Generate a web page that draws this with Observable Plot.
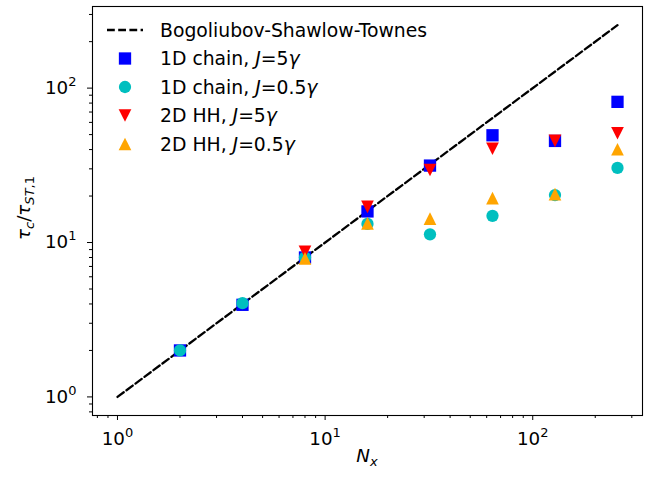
<!DOCTYPE html>
<html><head><meta charset="utf-8">
<script src="https://cdn.jsdelivr.net/npm/d3@7"></script>
<script src="https://cdn.jsdelivr.net/npm/@observablehq/plot@0.6"></script>
<style>body{margin:0;background:#fff;}</style>
</head><body><div id="chart"></div>
<script>
// ---- data ----
const bstN = [1, 256];
const bstTau = [1, 256];
const nChain = [2, 4, 8, 16, 32, 64, 128, 256];
const chainJ5 = [2, 3.95, 8, 15.9, 31.5, 49.5, 45.5, 81.5];
const chainJ05 = [2, 4.05, 8, 13.2, 11.3, 14.9, 20.3, 30.4];
const nHH = [8, 16, 32, 64, 128, 256];
const hhJ5 = [8.7, 17.0, 29.5, 40.5, 45.5, 51];
const hhJ05 = [7.9, 13.3, 14.3, 19.4, 20.6, 40.2];
const majorTicks = [1, 10, 100];
const minorTicks = [0.8, 0.9, 2, 3, 4, 5, 6, 7, 8, 9, 20, 30, 40, 50, 60, 70, 80, 90, 200, 300];

const toRows = (xs, ys) => xs.map((x, i) => ({x, y: ys[i]}));
const sup = {"0": "\u2070", "1": "\u00b9", "2": "\u00b2"};
const unsup = {"\u2070": "0", "\u00b9": "1", "\u00b2": "2"};
const fmt = d => "10" + sup[String(Math.round(Math.log10(d)))];

const triDown = {draw(ctx, size) { const s = Math.sqrt(size) / 2; ctx.moveTo(-s, -s); ctx.lineTo(s, -s); ctx.lineTo(0, s); ctx.closePath(); }};
const triUp = {draw(ctx, size) { const s = Math.sqrt(size) / 2; ctx.moveTo(0, -s); ctx.lineTo(s, s); ctx.lineTo(-s, s); ctx.closePath(); }};

const colors = {blue: "#0000ff", cyan: "#00bfbf", red: "#ff0000", orange: "#ffa500"};
const sqR = 12.3 / Math.sqrt(Math.PI), triR = 12.7 / Math.sqrt(Math.PI), circR = 6.15;
const FS = 18.3, SFS = 13, LFS = 18.8;

const svg = Plot.plot({
  width: 652, height: 481,
  marginLeft: 92, marginRight: 10, marginTop: 6, marginBottom: 66,
  style: {fontFamily: "DejaVu Sans", fontSize: FS + "px", background: "#fff", color: "black"},
  x: {type: "log", domain: [0.758, 337.8]},
  y: {type: "log", domain: [0.758, 337.8]},
  marks: [
    Plot.line(toRows(bstN, bstTau), {x: "x", y: "y", stroke: "black", strokeWidth: 2.3, strokeDasharray: "7.8,3.4"}),
    Plot.dot(toRows(nChain, chainJ5), {x: "x", y: "y", symbol: "square", r: sqR, fill: colors.blue}),
    Plot.dot(toRows(nChain, chainJ05), {x: "x", y: "y", symbol: "circle", r: circR, fill: colors.cyan}),
    Plot.dot(toRows(nHH, hhJ5), {x: "x", y: "y", symbol: triDown, r: triR, fill: colors.red}),
    Plot.dot(toRows(nHH, hhJ05), {x: "x", y: "y", symbol: triUp, r: triR, fill: colors.orange}),
    Plot.axisX({ticks: minorTicks, tickSize: 3, tickFormat: () => "", label: null, stroke: "black"}),
    Plot.axisX({ticks: majorTicks, tickSize: 5, tickPadding: 11, tickFormat: fmt, label: null, stroke: "black", fontSize: FS}),
    Plot.axisY({ticks: minorTicks, tickSize: 3, tickFormat: () => "", label: null, stroke: "black"}),
    Plot.axisY({ticks: majorTicks, tickSize: 5, tickPadding: 11, tickFormat: fmt, label: null, stroke: "black", fontSize: FS}),
    Plot.frame({stroke: "black", strokeWidth: 1.1})
  ]
});

const s = d3.select(svg);
// superscript tick labels as tspans
s.selectAll("text").each(function() {
  const txt = this.textContent;
  const m = /^10([\u2070\u00b9\u00b2])$/.exec(txt);
  if (!m) return;
  const el = d3.select(this);
  el.text("");
  el.append("tspan").text("10");
  el.append("tspan").attr("font-size", SFS).attr("dy", -8).text(unsup[m[1]]);
});

// axis labels
const xl = s.append("text").attr("x", 367).attr("y", 462).attr("text-anchor", "middle")
  .attr("font-size", FS).attr("fill", "black");
xl.append("tspan").attr("font-style", "italic").text("N");
xl.append("tspan").attr("font-style", "italic").attr("font-size", SFS).attr("dy", 3.5).text("x");

const yl = s.append("text").attr("transform", "translate(30,208) rotate(-90)").attr("text-anchor", "middle")
  .attr("font-size", FS).attr("fill", "black");
yl.append("tspan").attr("font-style", "italic").text("\u03c4");
yl.append("tspan").attr("font-style", "italic").attr("font-size", SFS).attr("dy", 3.5).text("c");
yl.append("tspan").attr("dy", -3.5).text("/");
yl.append("tspan").attr("font-style", "italic").text("\u03c4");
yl.append("tspan").attr("font-style", "italic").attr("font-size", SFS).attr("dy", 3.5).text("ST");
yl.append("tspan").attr("font-size", SFS).text(",1");

// legend
const legendItems = [
  {kind: "line", parts: [["Bogoliubov-Shawlow-Townes", false]]},
  {kind: "square", color: colors.blue, parts: [["1D chain, ", false], ["J", true], ["=5", false], ["\u03b3", true]]},
  {kind: "circle", color: colors.cyan, parts: [["1D chain, ", false], ["J", true], ["=0.5", false], ["\u03b3", true]]},
  {kind: "down", color: colors.red, parts: [["2D HH, ", false], ["J", true], ["=5", false], ["\u03b3", true]]},
  {kind: "up", color: colors.orange, parts: [["2D HH, ", false], ["J", true], ["=0.5", false], ["\u03b3", true]]}
];
const lg = s.append("g");
legendItems.forEach((it, i) => {
  const cy = 30 + i * 28.5, cx = 125;
  if (it.kind === "line") {
    lg.append("line").attr("x1", 107).attr("x2", 143).attr("y1", cy).attr("y2", cy)
      .attr("stroke", "black").attr("stroke-width", 2.3).attr("stroke-dasharray", "7.8,3.4");
  } else if (it.kind === "square") {
    lg.append("rect").attr("x", cx - 6.15).attr("y", cy - 6.15).attr("width", 12.3).attr("height", 12.3).attr("fill", it.color);
  } else if (it.kind === "circle") {
    lg.append("circle").attr("cx", cx).attr("cy", cy).attr("r", 6.15).attr("fill", it.color);
  } else if (it.kind === "down") {
    lg.append("path").attr("d", `M${cx-6.35},${cy-6.35}L${cx+6.35},${cy-6.35}L${cx},${cy+6.35}Z`).attr("fill", it.color);
  } else {
    lg.append("path").attr("d", `M${cx},${cy-6.35}L${cx+6.35},${cy+6.35}L${cx-6.35},${cy+6.35}Z`).attr("fill", it.color);
  }
  const t = lg.append("text").attr("x", 160).attr("y", cy).attr("dy", "0.36em").attr("text-anchor", "start")
    .attr("font-size", LFS).attr("fill", "black");
  it.parts.forEach(([txt, ital]) => {
    const sp = t.append("tspan").text(txt);
    if (ital) sp.attr("font-style", "italic");
  });
});

document.getElementById("chart").appendChild(svg);
</script>
</body></html>
